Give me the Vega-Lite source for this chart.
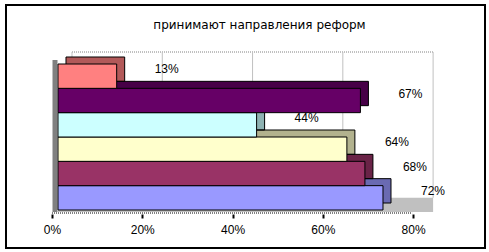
{
  "$schema": "https://vega.github.io/schema/vega-lite/v6.json",
  "width": 479,
  "height": 243,
  "autosize": {"type": "none"},
  "padding": {"left": 6, "top": 5, "right": 4, "bottom": 4},
  "background": "#ffffff",
  "config": {
    "font": "Liberation Sans",
    "view": {"stroke": "#000000", "strokeWidth": 2}
  },
  "title": {
    "text": "принимают направления реформ",
    "offset": -22,
    "dy": 14,
    "baseline": "alphabetic",
    "dx": 14,
    "fontSize": 12,
    "fontWeight": "normal",
    "font": "DejaVu Sans",
    "color": "#000000"
  },
  "data": {
    "values": [
      {"s": "Ряд1", "v": 0.72},
      {"s": "Ряд2", "v": 0.68},
      {"s": "Ряд3", "v": 0.64},
      {"s": "Ряд4", "v": 0.44},
      {"s": "Ряд5", "v": 0.67},
      {"s": "Ряд6", "v": 0.13}
    ]
  },
  "encoding": {
    "x": {
      "type": "quantitative",
      "scale": {"domain": [-0.1152, 0.946], "nice": false, "zero": false},
      "axis": {
        "orient": "bottom",
        "offset": -34,
        "values": [0, 0.2, 0.4, 0.6, 0.8],
        "format": ".0%",
        "title": null,
        "grid": false,
        "domain": false,
        "tickOffset": -6,
        "tickSize": 4,
        "tickWidth": 2,
        "tickColor": "#000000",
        "labelFontSize": 12,
        "labelColor": "#000000",
        "labelPadding": 6,
        "labelFont": "Liberation Sans"
      }
    },
    "y": {
      "type": "nominal",
      "scale": {
        "domain": ["Ряд6", "Ряд5", "Ряд4", "Ряд3", "Ряд2", "Ряд1"],
        "range": [59, 205],
        "paddingInner": 0,
        "paddingOuter": 0
      },
      "axis": null
    }
  },
  "layer": [
    {
      "data": {"values": [{}]},
      "mark": {"type": "rule", "color": "#808080", "strokeDash": [1, 1], "xOffset": 14, "x2Offset": 14, "yOffset": -12},
      "encoding": {
        "x": {"datum": 0},
        "x2": {"datum": 0.8},
        "y": {"datum": "Ряд6", "bandPosition": 0}
      }
    },
    {
      "data": {"values": [{"g": 0}, {"g": 0.2}, {"g": 0.4}, {"g": 0.6}, {"g": 0.8}]},
      "mark": {"type": "rule", "color": "#c0c0c0", "strokeWidth": 1, "xOffset": 14, "yOffset": -12},
      "encoding": {
        "x": {"field": "g"},
        "y": {"datum": "Ряд6", "bandPosition": 0},
        "y2": {"datum": "Ряд1", "bandPosition": 0.5}
      }
    },
    {
      "data": {"values": [{}]},
      "mark": {"type": "rect", "color": "#c0c0c0", "x2Offset": 14, "y2Offset": 2},
      "encoding": {
        "x": {"datum": 0},
        "x2": {"datum": 0.8},
        "y": {"datum": "Ряд1", "bandPosition": 0.5},
        "y2": {"datum": "Ряд1", "bandPosition": 1}
      }
    },
    {
      "data": {"values": [{}]},
      "mark": {"type": "rule", "color": "#808080", "strokeWidth": 5, "xOffset": -3, "yOffset": -4, "y2Offset": 2},
      "encoding": {
        "x": {"datum": 0},
        "y": {"datum": "Ряд6", "bandPosition": 0},
        "y2": {"datum": "Ряд1", "bandPosition": 1}
      }
    },
    {
      "mark": {"type": "bar", "xOffset": 8, "x2Offset": 8, "yOffset": -7, "y2Offset": -7},
      "encoding": {
        "x": {"field": "v"},
        "y": {"field": "s"},
        "color": {
          "field": "s",
          "type": "nominal",
          "scale": {
            "domain": ["Ряд1", "Ряд2", "Ряд3", "Ряд4", "Ряд5", "Ряд6"],
            "range": ["#9999ff", "#993366", "#ffffcc", "#ccffff", "#660066", "#ff8080"]
          },
          "legend": null
        }
      }
    },
    {
      "mark": {"type": "bar", "fill": "#000000", "fillOpacity": 0.3, "stroke": "#000000", "strokeWidth": 1, "xOffset": 8, "x2Offset": 8, "yOffset": -7, "y2Offset": -7},
      "encoding": {
        "x": {"field": "v"},
        "y": {"field": "s"}
      }
    },
    {
      "mark": {"type": "bar", "stroke": "#000000", "strokeWidth": 1},
      "encoding": {
        "x": {"field": "v"},
        "y": {"field": "s"},
        "color": {"field": "s", "type": "nominal", "legend": null}
      }
    },
    {
      "data": {"values": [{}]},
      "mark": {"type": "rule", "color": "#000000", "strokeDash": [1, 1], "xOffset": -6, "x2Offset": -7, "yOffset": 3},
      "encoding": {
        "x": {"datum": 0},
        "x2": {"datum": 0.8},
        "y": {"datum": "Ряд1", "bandPosition": 1}
      }
    },
    {
      "mark": {"type": "text", "align": "left", "baseline": "middle", "dx": 38, "dy": -7, "fontSize": 12, "color": "#000000"},
      "encoding": {
        "x": {"field": "v"},
        "y": {"field": "s"},
        "text": {"field": "v", "type": "quantitative", "format": ".0%"}
      }
    }
  ]
}
